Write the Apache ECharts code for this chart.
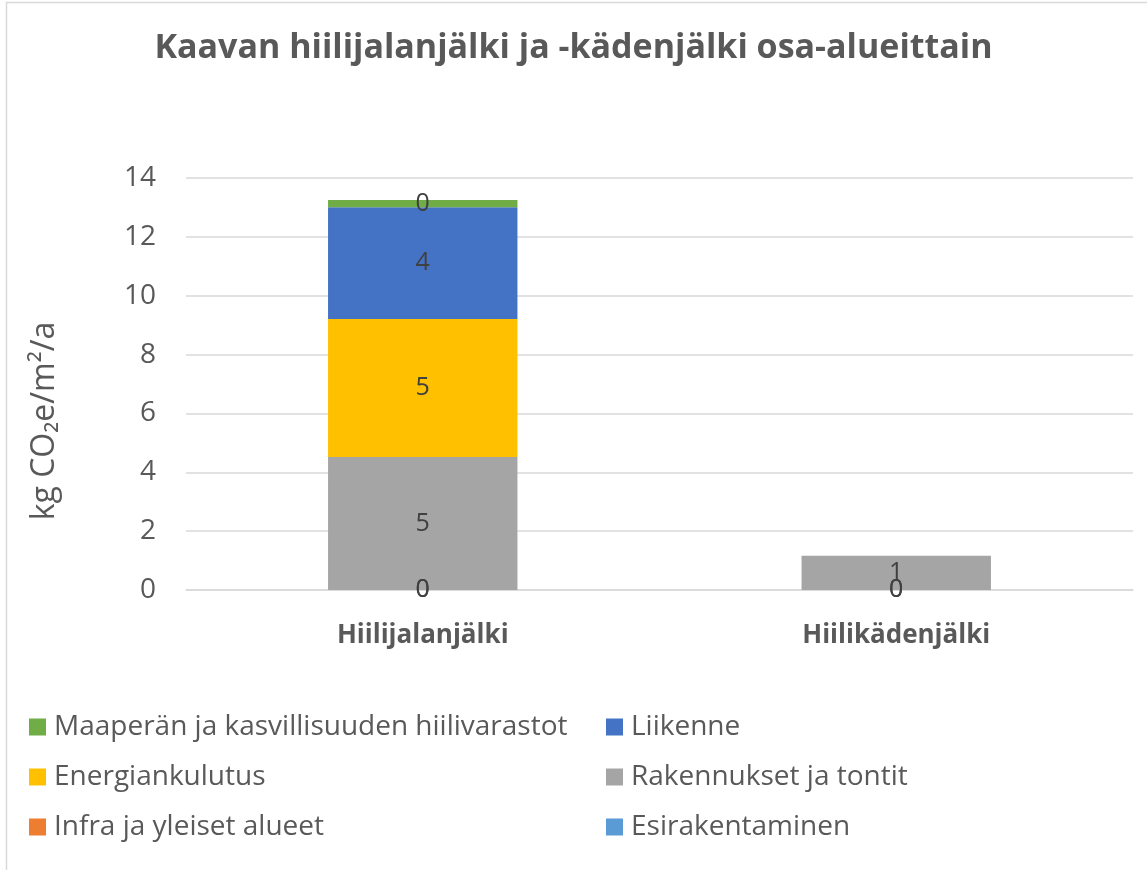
<!DOCTYPE html>
<html>
<head>
<meta charset="utf-8">
<script src="https://cdn.jsdelivr.net/npm/echarts@6/dist/echarts.min.js"></script>
<style>html,body{margin:0;padding:0;background:#fff}#c{width:1147px;height:870px}</style>
</head>
<body>
<div id="c"></div>
<script>
const categories = ['Hiilijalanjälki', 'Hiilikädenjälki'];
const seriesNames = ['Esirakentaminen', 'Infra ja yleiset alueet', 'Rakennukset ja tontit', 'Energiankulutus', 'Liikenne', 'Maaperän ja kasvillisuuden hiilivarastot'];
const seriesColors = ['#5B9BD5', '#ED7D31', '#A5A5A5', '#FFC000', '#4472C4', '#70AD47'];
const esirakentaminen = [0, 0];
const infra = [0, 0];
const rakennukset = [4.52, 1.16];
const energiankulutus = [4.69, null];
const liikenne = [3.80, null];
const maapera = [0.24, null];
const yTicks = [0, 2, 4, 6, 8, 10, 12, 14];
const title = 'Kaavan hiilijalanjälki ja -kädenjälki osa-alueittain';
const yAxisName = 'kg CO\u2082e/m\u00B2/a';

const values = [esirakentaminen, infra, rakennukset, energiankulutus, liikenne, maapera];
const font = 'Open Sans';
const chart = echarts.init(document.getElementById('c'));
const series = seriesNames.map((n, i) => ({
  name: n,
  type: 'bar',
  stack: 'total',
  barWidth: '40%',
  data: values[i],
  itemStyle: { color: seriesColors[i] },
  label: {
    show: true,
    position: 'inside',
    color: '#404040',
    fontFamily: font,
    fontSize: 25,
    formatter: p => p.value == null ? '' : Math.round(p.value).toString()
  }
}));
const legendCommon = {
  orient: 'vertical',
  itemWidth: 17,
  itemHeight: 17,
  itemGap: 22,
  icon: 'rect',
  textStyle: { color: '#595959', fontFamily: font, fontSize: 28, padding: [0, 0, 0, 3] }
};
chart.setOption({
  animation: false,
  backgroundColor: '#fff',
  title: {
    text: title,
    left: 'center',
    top: 26,
    textStyle: { color: '#595959', fontFamily: font, fontWeight: 'bold', fontSize: 34 }
  },
  graphic: [{
    type: 'rect',
    shape: { x: 6.5, y: 2.5, width: 1200, height: 900 },
    style: { fill: 'none', stroke: '#d9d9d9', lineWidth: 1.5 },
    silent: true
  }],
  legend: [
    Object.assign({ left: 24, top: 708, data: [seriesNames[5], seriesNames[3], seriesNames[1]] }, legendCommon),
    Object.assign({ left: 601, top: 708, data: [seriesNames[4], seriesNames[2], seriesNames[0]] }, legendCommon)
  ],
  grid: { left: 186, right: 14, top: 178, bottom: 280, containLabel: false },
  xAxis: {
    type: 'category',
    data: categories,
    axisLine: { lineStyle: { color: '#d9d9d9', width: 1.5 } },
    axisTick: { show: false },
    axisLabel: { color: '#595959', fontFamily: font, fontWeight: 'bold', fontSize: 26, margin: 33 }
  },
  yAxis: {
    type: 'value',
    min: yTicks[0],
    max: yTicks[yTicks.length - 1],
    interval: 2,
    name: yAxisName,
    nameLocation: 'middle',
    nameGap: 125,
    nameTextStyle: { color: '#595959', fontFamily: font, fontSize: 32, padding: [0, 74, 0, 0] },
    axisLine: { show: false },
    axisTick: { show: false },
    axisLabel: { color: '#595959', fontFamily: font, fontSize: 28, margin: 30 },
    splitLine: { lineStyle: { color: '#d9d9d9', width: 1.5 } }
  },
  series: series
});
</script>
</body>
</html>
